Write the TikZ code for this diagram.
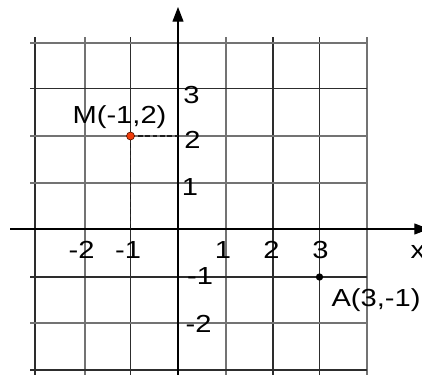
\documentclass[tikz,border=0pt]{standalone}
\usepackage{fontspec}
\setmainfont[FakeStretch=1.18]{Liberation Sans}
\usetikzlibrary{arrows.meta}

\begin{document}
\begin{tikzpicture}[x=0.75pt,y=0.75pt,yscale=-1,xscale=1,
	griddark/.style={color={rgb, 255:red, 45; green, 45; blue, 45}, line width=0.85pt},
	gridlight/.style={color={rgb, 255:red, 115; green, 115; blue, 115}, line width=1pt},
	axis/.style={color=black, line width=0.8pt, -{Triangle[length=11pt,width=8.25pt]}},
	guide/.style={color={rgb, 255:red, 30; green, 30; blue, 30}, line width=0.9pt, dash pattern=on 3.5pt off 2pt},
	lbl/.style={anchor=base, inner sep=0pt, font=\fontsize{18.5}{20}\selectfont},
	mdot/.style={circle, draw={rgb, 255:red, 90; green, 20; blue, 0}, fill={rgb, 255:red, 240; green, 60; blue, 10}, line width=0.5pt, minimum size=6pt, inner sep=0pt},
	adot/.style={circle, fill=black, minimum size=5.5pt, inner sep=0pt}]
	%set diagram left start at 0, and has height of 375
	\useasboundingbox (0,0) rectangle (422,375);
	
	%Grid: vertical lines
	\draw [griddark]  (35,37) -- (35,376) ;
	\draw [gridlight] (85,37) -- (85,376) ;
	\draw [griddark]  (130.5,37) -- (130.5,376) ;
	\draw [gridlight] (226,37) -- (226,376) ;
	\draw [griddark]  (273,37) -- (273,376) ;
	\draw [griddark]  (319.5,37) -- (319.5,376) ;
	\draw [gridlight] (367,37) -- (367,376) ;
	%Grid: horizontal lines
	\draw [gridlight] (30,43) -- (367,43) ;
	\draw [griddark]  (30,88.5) -- (367,88.5) ;
	\draw [gridlight] (30,136) -- (367,136) ;
	\draw [gridlight] (30,183) -- (367,183) ;
	\draw [griddark]  (30,277) -- (367,277) ;
	\draw [gridlight] (30,323) -- (367,323) ;
	\draw [griddark]  (30,370) -- (367,370) ;
	
	%Axes
	\coordinate (xstart) at (10,229) ;
	\coordinate (xend) at (429,229) ;
	\coordinate (ystart) at (178,376) ;
	\coordinate (yend) at (178,7) ;
	\draw [axis] (xstart) -- (xend) ;
	\draw [axis] (ystart) -- (yend) ;
	
	%Points and guide lines
	\coordinate (M) at (130.5,136) ;
	\coordinate (My) at (178,136) ;
	\coordinate (Mx) at (130.5,229) ;
	\coordinate (A) at (319.5,277) ;
	\draw [guide] (M) -- (My) ;
	\draw [guide] (M) -- (Mx) ;
	\node [mdot] (Mpt) at (M) {} ;
	\node [adot] (Apt) at (A) {} ;
	
	% Text Node
	\node [lbl] (Mlbl) at (119.5,123) {M(-1,2)} ;
	% Text Node
	\node [lbl] (Albl) at (376,306) {A(3,-1)} ;
	% Text Node
	\node [lbl] (ylbl3) at (191.5,103) {3} ;
	\node [lbl] (ylbl2) at (192.5,148) {2} ;
	\node [lbl] (ylbl1) at (190,195) {1} ;
	\node [lbl] (ylblm1) at (200,284) {-1} ;
	\node [lbl] (ylblm2) at (198.5,332) {-2} ;
	% Text Node
	\node [lbl] (xlblm2) at (81.5,258) {-2} ;
	\node [lbl] (xlblm1) at (128,258) {-1} ;
	\node [lbl] (xlbl1) at (223,258) {1} ;
	\node [lbl] (xlbl2) at (271.5,258) {2} ;
	\node [lbl] (xlbl3) at (320.5,258) {3} ;
	\node [lbl] (xname) at (418,258) {x} ;
	
\end{tikzpicture}
\end{document}
